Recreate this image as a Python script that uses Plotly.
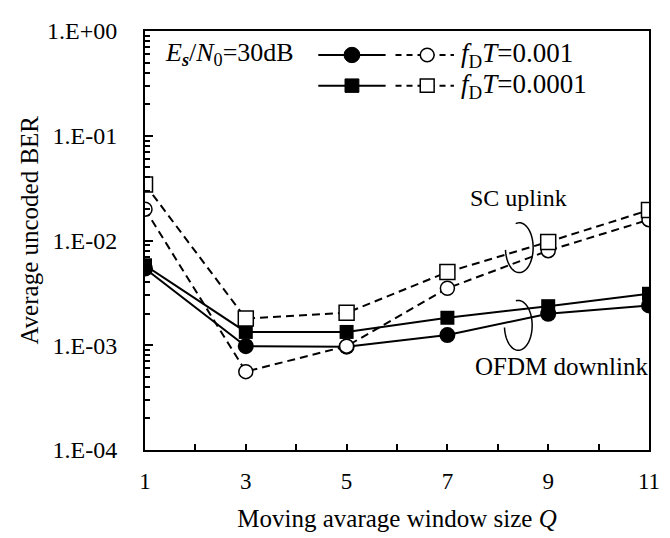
import numpy as np
import plotly.graph_objects as go

Q = [1, 3, 5, 7, 9, 11]
ofdm_fdT_001 = [0.0054, 0.00098, 0.00097, 0.00125, 0.0020, 0.0024]
ofdm_fdT_0001 = [0.0058, 0.00134, 0.00134, 0.00183, 0.00236, 0.0031]
sc_fdT_001 = [0.0199, 0.00056, 0.00098, 0.0035, 0.0080, 0.0158]
sc_fdT_0001 = [0.0343, 0.0018, 0.00204, 0.0050, 0.0097, 0.0195]
ytick_vals = [1e-4, 1e-3, 1e-2, 1e-1, 1]
ytick_text = ["1.E-04", "1.E-03", "1.E-02", "1.E-01", "1.E+00"]
xtick_vals = [1, 3, 5, 7, 9, 11]

FONT = "'Times New Roman', 'Liberation Serif', Times, serif"
FS = 24
FL = 27
FT = 25

# The page body keeps the browser's default 8px margin, so the figure is
# drawn 8px right and 8px down; size it to fill the visible window.
OFF = 8
W, H = 670 - OFF, 538 - OFF
# target plot area in window pixels
X0, X1, Y0, Y1 = 145, 654, 18, 455
L, R, T, B = X0 - OFF, W - (X1 - OFF), Y0 - OFF, H - (Y1 - OFF)
PW, PH = X1 - X0, Y1 - Y0


def px(x):
    return (x - X0) / PW


def py(y):
    return (Y1 - y) / PH


fig = go.Figure()
# OFDM downlink (solid, filled)
fig.add_trace(go.Scatter(x=Q, y=ofdm_fdT_001, mode="lines+markers",
                         line=dict(color="black", width=2),
                         marker=dict(symbol="circle", size=16, color="black")))
fig.add_trace(go.Scatter(x=Q, y=ofdm_fdT_0001, mode="lines+markers",
                         line=dict(color="black", width=2),
                         marker=dict(symbol="square", size=14, color="black")))
# SC uplink (dashed, open)
fig.add_trace(go.Scatter(x=Q, y=sc_fdT_001, mode="lines+markers",
                         line=dict(color="black", width=2, dash="8px,5px"),
                         marker=dict(symbol="circle", size=14, color="white",
                                     line=dict(color="black", width=1.5))))
fig.add_trace(go.Scatter(x=Q, y=sc_fdT_0001, mode="lines+markers",
                         line=dict(color="black", width=2, dash="8px,5px"),
                         marker=dict(symbol="square", size=15, color="white",
                                     line=dict(color="black", width=1.5))))

shapes = []
annotations = []

# custom legend
rows = [(43, "circle", "<i>f</i><sub>D</sub><i>T</i>=0.001"),
        (75, "square", "<i>f</i><sub>D</sub><i>T</i>=0.0001")]
for yy, sym, label in rows:
    shapes.append(dict(type="line", xref="paper", yref="paper",
                       x0=px(320), x1=px(388), y0=py(yy), y1=py(yy),
                       line=dict(color="black", width=2)))
    shapes.append(dict(type="line", xref="paper", yref="paper",
                       x0=px(398), x1=px(457), y0=py(yy), y1=py(yy),
                       line=dict(color="black", width=2, dash="6px,5px")))
    r = 8 if sym == "circle" else 7
    kind = "circle" if sym == "circle" else "rect"
    shapes.append(dict(type=kind, xref="paper", yref="paper",
                       x0=px(354 - r), x1=px(354 + r), y0=py(yy + r), y1=py(yy - r),
                       fillcolor="black", line=dict(color="black", width=1)))
    ro = 7
    shapes.append(dict(type=kind, xref="paper", yref="paper",
                       x0=px(430 - ro), x1=px(430 + ro), y0=py(yy + ro), y1=py(yy - ro),
                       fillcolor="white", line=dict(color="black", width=1.5)))
    annotations.append(dict(xref="paper", yref="paper", x=px(462), y=py(yy),
                            xanchor="left", yanchor="middle", showarrow=False,
                            text=label, font=dict(family=FONT, size=FL, color="black")))

annotations.append(dict(xref="paper", yref="paper", x=px(163), y=py(42),
                        xanchor="left", yanchor="middle", showarrow=False,
                        text="<i>E</i><sub><b><i>s</i></b></sub>/<i>N</i><sub>0</sub>=30dB",
                        font=dict(family=FONT, size=26, color="black")))
annotations.append(dict(xref="paper", yref="paper", x=px(522), y=py(192),
                        xanchor="center", yanchor="middle", showarrow=False,
                        text="SC uplink", font=dict(family=FONT, size=FS, color="black")))
annotations.append(dict(xref="paper", yref="paper", x=px(566), y=py(368),
                        xanchor="center", yanchor="middle", showarrow=False,
                        text="OFDM downlink", font=dict(family=FONT, size=25, color="black")))
# y-axis title, placed as in the reference (slightly above the plot centre)
annotations.append(dict(xref="paper", yref="paper", x=px(28), y=py(226),
                        xanchor="center", yanchor="middle", showarrow=False, textangle=-90,
                        text="Average uncoded BER", font=dict(family=FONT, size=FT, color="black")))


def arc(cx, cy, rx, ry, a0, a1):
    th = np.radians(np.linspace(a0, a1, 60))
    xs = cx + rx * np.cos(th)
    ys = cy - ry * np.sin(th)
    pts = ["{} {:.5f},{:.5f}".format("M" if i == 0 else "L", px(x), py(y))
           for i, (x, y) in enumerate(zip(xs, ys))]
    return " ".join(pts)


shapes.append(dict(type="path", xref="paper", yref="paper",
                   path=arc(523, 244, 14, 26, 105, -175),
                   line=dict(color="black", width=1.5)))
shapes.append(dict(type="path", xref="paper", yref="paper",
                   path=arc(522, 325, 14, 26, 100, -175),
                   line=dict(color="black", width=1.5)))

fig.update_layout(
    width=W, height=H,
    margin=dict(l=L, r=R, t=T, b=B),
    paper_bgcolor="white", plot_bgcolor="white",
    showlegend=False,
    font=dict(family=FONT, size=FS, color="black"),
    shapes=shapes, annotations=annotations,
)
fig.update_xaxes(range=[1, 11], tickvals=xtick_vals, ticktext=[str(v) for v in xtick_vals],
                 ticks="inside", ticklen=6, tickwidth=2, tickcolor="black",
                 minor=dict(dtick=1, ticks="inside", ticklen=6, tickwidth=2, tickcolor="black"),
                 showline=True, linewidth=2, linecolor="black", mirror=True,
                 showgrid=False, zeroline=False, ticklabelstandoff=9,
                 ticklabeloverflow="allow",
                 tickfont=dict(family=FONT, size=23),
                 title=dict(text="Moving avarage window size <i>Q</i>", standoff=17,
                            font=dict(family=FONT, size=FT)))
fig.update_yaxes(type="log", range=[-4, 0], tickvals=ytick_vals, ticktext=ytick_text,
                 ticks="inside", ticklen=8, tickwidth=2, tickcolor="black",
                 minor=dict(dtick="D1", ticks="inside", ticklen=5, tickwidth=1.5, tickcolor="black",
                            showgrid=False),
                 showline=True, linewidth=2, linecolor="black", mirror=True,
                 showgrid=False, zeroline=False, ticklabelstandoff=21,
                 ticklabeloverflow="allow",
                 tickfont=dict(family=FONT, size=FS))

fig.write_html("out.html")
